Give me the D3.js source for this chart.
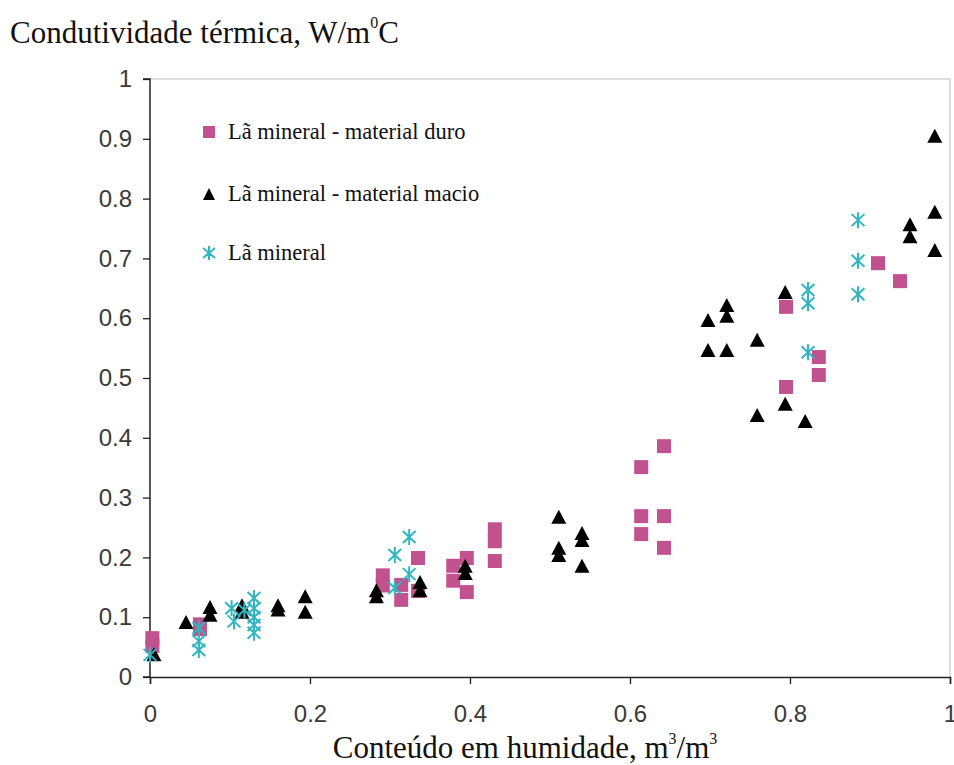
<!DOCTYPE html>
<html>
<head>
<meta charset="utf-8">
<script src="https://cdn.jsdelivr.net/npm/d3@7"></script>
<style>
  html, body { margin: 0; padding: 0; background: #fff; }
  svg { display: block; }
</style>
</head>
<body>
<svg id="chart" width="954" height="765"></svg>
<script>
// Moisture content (m³/m³) vs thermal conductivity (W/m°C)
const duroX = [0.003, 0.003, 0.0625, 0.0625, 0.291, 0.291, 0.314, 0.314, 0.335, 0.335, 0.379, 0.379, 0.396, 0.396, 0.431, 0.431, 0.431, 0.614, 0.6425, 0.614, 0.614, 0.6425, 0.6425, 0.795, 0.795, 0.836, 0.836, 0.91, 0.9375];
const duroY = [0.065, 0.052, 0.088, 0.080, 0.170, 0.153, 0.154, 0.129, 0.199, 0.144, 0.186, 0.161, 0.199, 0.142, 0.247, 0.227, 0.194, 0.351, 0.386, 0.269, 0.239, 0.269, 0.216, 0.619, 0.485, 0.535, 0.505, 0.692, 0.662];

const macioX = [0.005, 0.045, 0.075, 0.075, 0.115, 0.115, 0.16, 0.16, 0.194, 0.194, 0.283, 0.283, 0.3375, 0.3375, 0.394, 0.394, 0.511, 0.511, 0.511, 0.54, 0.54, 0.54, 0.6975, 0.721, 0.721, 0.6975, 0.721, 0.759, 0.794, 0.759, 0.794, 0.819, 0.981, 0.981, 0.981, 0.95, 0.95];
const macioY = [0.038, 0.092, 0.117, 0.104, 0.120, 0.109, 0.120, 0.113, 0.135, 0.109, 0.145, 0.135, 0.159, 0.145, 0.186, 0.174, 0.268, 0.216, 0.204, 0.241, 0.229, 0.186, 0.597, 0.622, 0.604, 0.547, 0.547, 0.564, 0.644, 0.438, 0.457, 0.428, 0.905, 0.778, 0.714, 0.757, 0.737];

const mineralX = [0.0, 0.061, 0.061, 0.061, 0.102, 0.105, 0.118, 0.13, 0.13, 0.13, 0.13, 0.13, 0.306, 0.306, 0.324, 0.324, 0.8225, 0.8225, 0.8225, 0.885, 0.885, 0.885];
const mineralY = [0.037, 0.082, 0.060, 0.045, 0.115, 0.093, 0.112, 0.132, 0.115, 0.100, 0.087, 0.074, 0.204, 0.149, 0.234, 0.172, 0.647, 0.625, 0.543, 0.764, 0.696, 0.640];

const xTicks = [0, 0.2, 0.4, 0.6, 0.8, 1];
const yTicks = [0, 0.1, 0.2, 0.3, 0.4, 0.5, 0.6, 0.7, 0.8, 0.9, 1];

const seriesNames = ["Lã mineral - material duro", "Lã mineral - material macio", "Lã mineral"];
const pink = "#c2528f", cyan = "#2fb6c0", black = "#000";

const svg = d3.select("#chart");
const x = d3.scaleLinear().domain([0, 1]).range([150, 950]);
const y = d3.scaleLinear().domain([0, 1]).range([677, 79]);

const serif = "'Liberation Serif', 'Times New Roman', serif";
const sans = "'Liberation Sans', Arial, sans-serif";

// plot frame (top and right edges)
svg.append("path")
  .attr("d", `M${x(0)},${y(1)}H${x(1)}V${y(0)}`)
  .attr("fill", "none").attr("stroke", "#bdbdbd").attr("stroke-width", 1);

// axes
const fmt = d => d === 0 ? "0" : d === 1 ? "1" : d3.format(".1f")(d);
const xAxis = d3.axisBottom(x).tickValues(xTicks).tickSize(7).tickPadding(21).tickFormat(fmt);
const yAxis = d3.axisLeft(y).tickValues(yTicks).tickSize(7).tickPadding(11).tickFormat(fmt);

const gx = svg.append("g").attr("transform", `translate(0,${y(0)})`).call(xAxis);
const gy = svg.append("g").attr("transform", `translate(${x(0)},0)`).call(yAxis);
[gx, gy].forEach(g => {
  g.select(".domain").attr("stroke", "#222").attr("stroke-width", 1.5);
  g.selectAll(".tick line").attr("stroke", "#222").attr("stroke-width", 1.3);
  g.selectAll(".tick text").attr("font-family", sans).attr("font-size", 24).attr("fill", "#3a3a3a");
});
gy.select(".domain").attr("d", `M-7,${y(1)}H0V${y(0)}H-7`);

// marker shapes
const sq = 14;
const squarePath = `M${-sq/2},${-sq/2}h${sq}v${sq}h${-sq}Z`;
const tw = 15, th = 14;
const trianglePath = `M0,${-th/2}L${tw/2},${th/2}L${-tw/2},${th/2}Z`;
const sr = 8;
const starPath = `M0,${-sr}V${sr}M${-sr*0.8},${-sr*0.75}L${sr*0.8},${sr*0.75}M${-sr*0.8},${sr*0.75}L${sr*0.8},${-sr*0.75}`;

const zip = (xs, ys) => xs.map((v, i) => [v, ys[i]]);

const plot = svg.append("g");
plot.selectAll(".duro").data(zip(duroX, duroY)).join("path")
  .attr("class", "duro").attr("d", squarePath)
  .attr("transform", d => `translate(${x(d[0])},${y(d[1])})`)
  .attr("fill", pink);
plot.selectAll(".macio").data(zip(macioX, macioY)).join("path")
  .attr("class", "macio").attr("d", trianglePath)
  .attr("transform", d => `translate(${x(d[0])},${y(d[1])})`)
  .attr("fill", black);
plot.selectAll(".mineral").data(zip(mineralX, mineralY)).join("path")
  .attr("class", "mineral").attr("d", starPath)
  .attr("transform", d => `translate(${x(d[0])},${y(d[1])})`)
  .attr("fill", "none").attr("stroke", cyan).attr("stroke-width", 2);

// legend
const legend = svg.append("g");
const legendRows = [
  { name: seriesNames[0], y: 132, draw: g => g.append("path").attr("d", `M-6,-6h12v12h-12Z`).attr("fill", pink) },
  { name: seriesNames[1], y: 194, draw: g => g.append("path").attr("d", `M0,-6L6,6L-6,6Z`).attr("fill", black) },
  { name: seriesNames[2], y: 253, draw: g => g.append("path").attr("d", `M0,-7V7M-6,-5L6,5M-6,5L6,-5`).attr("stroke", cyan).attr("stroke-width", 2).attr("fill", "none") }
];
legendRows.forEach(r => {
  const g = legend.append("g").attr("transform", `translate(209,${r.y})`);
  r.draw(g);
  g.append("text").attr("x", 19).attr("y", 7)
    .attr("font-family", serif).attr("font-size", 22.5).attr("fill", "#111")
    .text(r.name);
});

// axis titles
const title = svg.append("text").attr("x", 10).attr("y", 43)
  .attr("font-family", serif).attr("font-size", 31).attr("fill", "#111");
title.append("tspan").text("Condutividade térmica, W/m");
title.append("tspan").attr("dy", -15).attr("font-size", 16).text("0");
title.append("tspan").attr("dy", 15).text("C");

const xTitle = svg.append("text").attr("x", 525).attr("y", 758).attr("text-anchor", "middle")
  .attr("font-family", serif).attr("font-size", 31).attr("fill", "#111");
xTitle.append("tspan").text("Conteúdo em humidade, m");
xTitle.append("tspan").attr("dy", -14).attr("font-size", 16).text("3");
xTitle.append("tspan").attr("dy", 14).text("/m");
xTitle.append("tspan").attr("dy", -14).attr("font-size", 16).text("3");
</script>
</body>
</html>
